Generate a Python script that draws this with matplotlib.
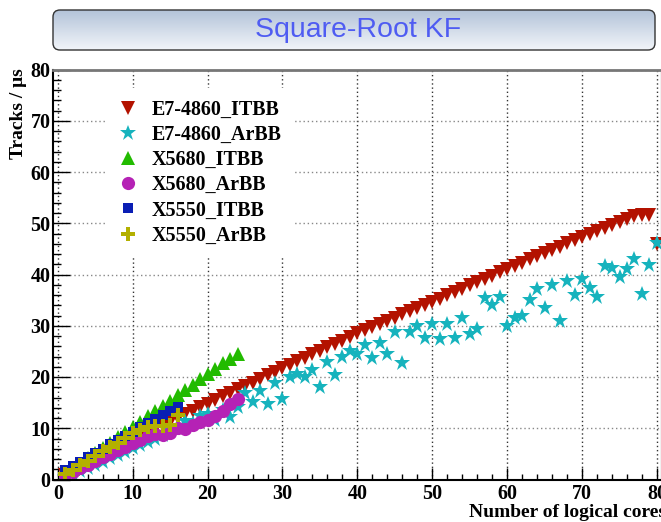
import numpy as np
import matplotlib
matplotlib.use('Agg')
import matplotlib.pyplot as plt
from matplotlib.patches import FancyBboxPatch
from matplotlib.colors import LinearSegmentedColormap
from matplotlib.ticker import MultipleLocator

# Tracks per microsecond vs number of logical cores
e7_itbb = [0.8, 1.5, 2.3, 3.0, 3.8, 4.5, 5.3, 6.0, 6.8, 7.5,
           8.3, 9.0, 9.8, 10.5, 11.2, 12.0, 12.7, 13.4, 14.1, 14.8,
           15.5, 16.2, 16.9, 17.6, 18.3, 18.9, 19.6, 20.3, 21.0, 21.7,
           22.4, 23.1, 23.8, 24.4, 25.1, 25.8, 26.5, 27.1, 27.8, 28.5,
           29.1, 29.7, 30.3, 30.9, 31.6, 32.2, 32.8, 33.4, 34.1, 34.7,
           35.3, 36.0, 36.6, 37.2, 37.9, 38.5, 39.2, 39.8, 40.5, 41.1,
           41.7, 42.3, 43.0, 43.6, 44.2, 44.8, 45.4, 46.1, 46.7, 47.3,
           47.9, 48.5, 49.1, 49.7, 50.3, 50.9, 51.4, 51.7, 51.7, 46.0]
e7_arbb = [0.5, 1.1, 1.7, 2.3, 2.9, 3.5, 4.1, 4.8, 5.4, 6.1,
           6.7, 7.4, 8.0, 8.7, 9.5, 10.5, 11.5, 11.0, 12.3, 12.8,
           11.7, 13.5, 12.2, 14.2, 16.8, 15.2, 17.3, 14.8, 18.8, 15.8,
           20.0, 20.6, 20.0, 21.4, 18.0, 23.0, 20.3, 23.9, 25.0, 24.5,
           26.2, 23.7, 26.7, 24.4, 28.8, 22.8, 28.8, 30.0, 27.6, 30.3,
           27.4, 30.3, 27.6, 31.5, 28.3, 29.3, 35.5, 34.0, 35.6, 30.0,
           31.6, 31.9, 35.0, 37.1, 33.4, 38.0, 31.0, 38.8, 36.0, 39.1,
           37.3, 35.6, 41.6, 41.3, 39.5, 41.0, 43.0, 36.1, 41.8, 46.2]
x5680_itbb = [1.0, 2.0, 3.1, 4.1, 5.1, 6.2, 7.2, 8.2, 9.3, 10.3, 11.3, 12.4,
              13.4, 14.4, 15.4, 16.5, 17.5, 18.5, 19.6, 20.6, 21.6, 22.7, 23.6, 24.5]
x5680_arbb = [0.8, 1.5, 2.2, 2.9, 3.6, 4.3, 5.0, 5.7, 6.4, 7.1, 7.8, 8.4,
              8.8, 8.7, 9.0, 10.0, 9.8, 10.6, 11.2, 11.6, 12.3, 13.4, 14.8, 15.8]
x5550_itbb = [1.8, 2.7, 3.5, 4.4, 5.2, 6.0, 6.9, 7.7, 8.5, 9.3, 10.2, 11.0,
              11.8, 12.6, 13.4, 14.2]
x5550_arbb = [1.0, 1.9, 2.8, 3.7, 4.6, 5.5, 6.4, 7.2, 8.1, 9.0, 9.7, 10.3,
              10.5, 10.4, 10.7, 12.6]

series = [
    ('E7-4860_ITBB', e7_itbb, 'v', '#b31200', 10.5),
    ('E7-4860_ArBB', e7_arbb, '*', '#16b3bd', 12),
    ('X5680_ITBB', x5680_itbb, '^', '#22bb00', 10.5),
    ('X5680_ArBB', x5680_arbb, 'o', '#b522b5', 9.5),
    ('X5550_ITBB', x5550_itbb, 's', '#0a1eb4', 7.5),
    ('X5550_ArBB', x5550_arbb, 'P', '#b3b000', 10),
]

W, H = 661, 522
fig = plt.figure(figsize=(W / 100, H / 100), dpi=100)
serif = 'Liberation Serif'

ax = fig.add_axes([53.3 / W, 42.5 / H, 607.4 / W, 410 / H])
for name, ys, mk, col, ms in series:
    xs = np.arange(1, len(ys) + 1)
    ax.plot(xs, ys, linestyle='none', marker=mk, color=col, markersize=ms,
            markeredgewidth=0, label=name)

ax.set_xlim(-0.6, 80.5)
ax.set_ylim(0, 80)
ax.xaxis.set_major_locator(MultipleLocator(10))
ax.xaxis.set_minor_locator(MultipleLocator(2))
ax.yaxis.set_major_locator(MultipleLocator(10))
ax.yaxis.set_minor_locator(MultipleLocator(2))
ax.tick_params(axis='x', which='major', direction='in', length=9, width=1, pad=3.5)
ax.tick_params(axis='x', which='minor', direction='in', length=4.5, width=1)
ax.tick_params(axis='y', which='major', direction='in', length=12, width=1, pad=2)
ax.tick_params(axis='y', which='minor', direction='in', length=5.5, width=1)
for lab in ax.get_xticklabels() + ax.get_yticklabels():
    lab.set_fontfamily(serif)
    lab.set_fontweight('bold')
    lab.set_fontsize(14.5)

ax.xaxis.grid(True, which='major', linestyle=(0, (1, 2)), color='#333333', linewidth=1)
ax.yaxis.grid(True, which='major', linestyle=(0, (1, 2)), color='#888888', linewidth=1)
ax.set_axisbelow(True)
for s in ['left', 'bottom']:
    ax.spines[s].set_linewidth(1.5)
ax.spines['top'].set_color('#777777')
ax.spines['top'].set_linewidth(2)

leg = ax.legend(loc='upper left', bbox_to_anchor=(106 / W, 1 - 88 / H),
                bbox_transform=fig.transFigure, borderaxespad=0,
                numpoints=1, handlelength=1.0, handletextpad=0.7,
                labelspacing=0.255, borderpad=0.6, frameon=True,
                fancybox=False, edgecolor='none', facecolor='white', framealpha=1,
                prop={'family': serif, 'weight': 'bold', 'size': 14.4})

fig.text(18.5 / W, 1 - 68 / H, 'Tracks / \u03bcs', rotation=90, ha='center', va='top',
         family=serif, weight='bold', fontsize=14)
fig.text(666 / W, 1 - 517 / H, 'Number of logical cores', ha='right', va='baseline',
         family=serif, weight='bold', fontsize=14)

# title box with gradient
bw, bh = 604, 42
bax = fig.add_axes([52 / W, 1 - 51 / H, bw / W, bh / H])
bax.set_xlim(0, bw)
bax.set_ylim(0, bh)
bax.axis('off')
cmap = LinearSegmentedColormap.from_list('box', ['#b2c2d8', '#f3f6fa'])
grad = np.linspace(0, 1, 128).reshape(-1, 1)
im = bax.imshow(grad, cmap=cmap, aspect='auto', extent=[0, bw, 0, bh], origin='upper')
box = FancyBboxPatch((1, 1), bw - 2, bh - 2, boxstyle='round,pad=0,rounding_size=7',
                     facecolor='none', edgecolor='#333333', linewidth=1)
bax.add_patch(box)
im.set_clip_path(box)
bax.text(bw / 2 + 4, bh / 2, 'Square-Root KF', ha='center', va='center',
         color='#4f5cf2', family='Liberation Sans', fontsize=20.5)

fig.savefig('out.png', dpi=100)
